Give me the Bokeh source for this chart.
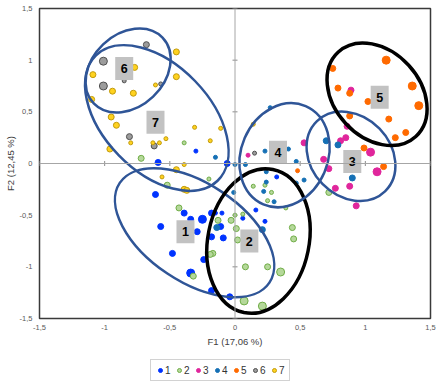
import numpy as np
from bokeh.plotting import figure
from bokeh.layouts import column
from bokeh.models import (ColumnDataSource, Legend, LegendItem, Span, Range1d,
                          FixedTicker, CustomJSTickFormatter)
from bokeh.core.properties import value
from bokeh.embed import file_html
from bokeh.resources import INLINE

# ---------------- data ----------------
group_names = ["1", "2", "3", "4", "5", "6", "7"]

g1_x = [-0.30, -0.59, -0.06, -0.61, -0.39, -0.57, -0.25, -0.29, -0.18, -0.15, -0.10, -0.11,
        -0.09, -0.18, -0.48, -0.24, -0.34, -0.18, -0.04, 0.06, 0.23, 0.16, 0.32, -0.34]
g1_y = [0.12, 0.01, 0.00, -0.30, -0.48, -0.61, -0.54, -0.66, -0.48, -0.48, -0.48, -0.61,
        -0.72, -0.71, -0.87, -0.93, -1.06, -1.23, -1.29, -0.53, -0.56, -0.45, -0.13, -0.54]
g1_w = [1, 2, 2, 2, 2, 2, 3, 2, 2, 1, 1, 2, 2, 2, 2, 2, 3, 2, 2, 1, 1, 1, 1, 2]

g2_x = [-0.39, -0.72, -0.52, -0.20, -0.43, -0.13, -0.03, 0.01, 0.02, -0.17, -0.19, -0.32, 0.08,
        0.25, 0.35, 0.07, 0.21, 0.44, 0.45, 0.14, 0.23, 0.28, 0.25, 0.39, 0.00, 0.06, 0.72]
g2_y = [0.20, 0.05, -0.21, -0.15, -0.43, -0.55, -0.55, -0.63, -0.74, -0.87, -0.88, -1.09, -1.00,
        -1.00, -1.05, -1.33, -1.38, -0.62, -0.73, -0.22, -0.21, -0.28, -0.36, -0.43, -0.50, -0.49, -0.28]
g2_w = [1, 2, 2, 1, 2, 2, 2, 2, 2, 2, 2, 2, 2, 2, 3, 3, 3, 2, 2, 1, 1, 1, 1, 1, 1, 1, 2]

g3_x = [0.89, 0.86, 0.85, 0.81, 0.53, 1.04, 0.68, 0.72, 1.09, 0.77, 0.88, 0.93, 0.10]
g3_y = [0.71, 0.36, 0.25, 0.22, 0.20, 0.11, 0.04, -0.05, -0.08, -0.24, -0.22, -0.41, 0.08]
g3_w = [2, 2, 2, 2, 2, 3, 2, 2, 3, 2, 2, 2, 1]

g4_x = [0.27, 0.23, 0.41, 0.47, 0.00, 0.08, 0.70, 0.79, 0.90, 0.53, 0.47, 0.24, -0.01, 0.30,
        -0.15, 0.24, -0.14, 0.21, 0.22]
g4_y = [0.54, 0.12, 0.14, 0.02, -0.01, -0.01, 0.22, 0.18, -0.14, -0.16, -0.19, -0.18, -0.28, -0.37,
        0.06, -0.08, -0.62, -0.64, -0.27]
g4_w = [1, 1, 1, 1, 1, 1, 2, 2, 2, 1, 1, 1, 1, 1, 1, 1, 2, 2, 1]

g5_x = [1.16, 0.75, 0.79, 0.88, 1.36, 1.41, 1.02, 1.18, 0.88, 1.31, 1.23, 0.99, 1.14, 0.48]
g5_y = [1.00, 0.92, 0.73, 0.68, 0.75, 0.56, 0.60, 0.43, 0.46, 0.30, 0.25, 0.15, -0.03, -0.07]
g5_w = [3, 2, 2, 2, 3, 3, 2, 2, 2, 2, 2, 2, 2, 1]

g6_x = [-0.68, -1.01, -1.01, -0.57, -0.85, -0.81, -0.62, 0.15]
g6_y = [1.15, 0.99, 0.75, 0.77, 0.80, 0.26, 0.17, 0.10]
g6_w = [2, 3, 3, 1, 1, 2, 2, 1]

g7_x = [-0.45, -1.09, -0.77, -0.45, -0.61, -0.94, -0.78, -1.10, -0.95, -0.91, -0.31, -0.11,
        -0.96, -0.80, -0.63, -0.58, -0.53, -0.19, -0.39, -0.45, -0.56, -0.39, -0.37, 0.14]
g7_y = [1.08, 0.86, 0.93, 0.84, 0.76, 0.70, 0.68, 0.62, 0.45, 0.37, 0.35, 0.34,
        0.14, 0.20, 0.20, 0.20, 0.24, 0.22, -0.01, -0.06, -0.13, -0.25, -0.26, 0.38]
g7_w = [2, 2, 2, 2, 1, 2, 2, 2, 2, 2, 1, 1, 2, 1, 1, 1, 1, 1, 1, 2, 1, 2, 2, 1]

# cluster ellipses (centre, full width/height along own axes, rotation in degrees)
ell_id = ["6", "7", "1", "2", "4", "3", "5"]
ell_x = [-0.82, -0.60, -0.31, 0.18, 0.38, 0.89, 1.09]
ell_y = [0.90, 0.44, -0.67, -0.75, 0.08, 0.07, 0.67]
ell_w = [0.73, 1.34, 1.38, 1.12, 0.82, 0.75, 0.88]
ell_h = [0.70, 1.03, 0.95, 0.98, 0.84, 0.77, 0.83]
ell_angle = [43.7, -45.9, -33.7, 78.6, 66.7, -45.9, -47.5]

# cluster labels
lab_text = ["6", "7", "1", "2", "4", "3", "5"]
lab_x = [-0.85, -0.61, -0.38, 0.11, 0.33, 0.90, 1.11]
lab_y = [0.92, 0.40, -0.66, -0.75, 0.11, 0.02, 0.64]

tick_values = [-1.5, -1, -0.5, 0, 0.5, 1, 1.5]

# ---------------- styles ----------------
FONT = "Liberation Sans"
fills = ["#0033FF", "#B5D89A", "#E0269C", "#1570B5", "#FF6A00", "#9C9C9C", "#FFD21F"]
lines = ["#0033FF", "#70AD47", "#E0269C", "#1570B5", "#FF6A00", "#505050", "#C29B0C"]
size_map = {1: 4, 2: 6, 3: 8}

p = figure(width=440, height=352, x_range=Range1d(-1.5, 1.5), y_range=Range1d(-1.5, 1.5),
           output_backend="svg", toolbar_location=None,
           min_border_left=39, min_border_right=10, min_border_top=8, min_border_bottom=34)
p.grid.visible = False
p.background_fill_color = "white"
p.border_fill_color = "white"
p.outline_line_color = "#3A3A3A"
p.outline_line_width = 1.5

for ax in (p.xaxis[0], p.yaxis[0]):
    ax.ticker = FixedTicker(ticks=tick_values)
    ax.formatter = CustomJSTickFormatter(code="return String(tick).replace('.', ',');")
    ax.major_tick_in = 0
    ax.major_tick_out = 0
    ax.minor_tick_line_color = None
    ax.axis_line_color = None
    ax.major_label_text_font = FONT
    ax.major_label_text_font_size = "7.5px"
    ax.major_label_text_color = "#595959"
    ax.axis_label_text_font = FONT
    ax.axis_label_text_font_size = "9.5px"
    ax.axis_label_text_font_style = "normal"
    ax.axis_label_text_color = "#404040"

p.xaxis.axis_label = "F1 (17,06 %)"
p.yaxis.axis_label = "F2 (12,45 %)"
p.xaxis.major_label_standoff = 6
p.xaxis.axis_label_standoff = 3
p.yaxis.major_label_standoff = 7
p.yaxis.axis_label_standoff = 1

# zero lines with small ticks
p.add_layout(Span(location=0, dimension="width", line_color="#A6A6A6", line_width=1))
p.add_layout(Span(location=0, dimension="height", line_color="#A6A6A6", line_width=1))
nz = [t for t in tick_values if t != 0]
p.dash(x=[0] * len(nz), y=nz, size=5, angle=0, line_color="#8C8C8C", line_width=1)
p.dash(x=nz, y=[0] * len(nz), size=5, angle=np.pi / 2, line_color="#8C8C8C", line_width=1)

# points
xs = [g1_x, g2_x, g3_x, g4_x, g5_x, g6_x, g7_x]
ys = [g1_y, g2_y, g3_y, g4_y, g5_y, g6_y, g7_y]
ws = [g1_w, g2_w, g3_w, g4_w, g5_w, g6_w, g7_w]
sources = []
for i, name in enumerate(group_names):
    src = ColumnDataSource(dict(x=xs[i], y=ys[i], s=[size_map[w] for w in ws[i]]))
    sources.append(src)
    p.scatter("x", "y", size="s", source=src, marker="circle",
              fill_color=fills[i], line_color=lines[i], line_width=1)

# ellipses
ell_colors = ["#000000" if e in ("2", "5") else "#2F5597" for e in ell_id]
ell_widths = [3.5 if e in ("2", "5") else 2.5 for e in ell_id]
esrc = ColumnDataSource(dict(x=ell_x, y=ell_y, w=ell_w, h=ell_h,
                             a=list(np.radians(ell_angle)), c=ell_colors, lw=ell_widths))
p.ellipse("x", "y", width="w", height="h", angle="a", source=esrc,
          fill_color=None, line_color="c", line_width="lw")

# label boxes
lsrc = ColumnDataSource(dict(x=lab_x, y=lab_y, t=lab_text))
p.rect("x", "y", width=18, height=23, width_units="screen", height_units="screen",
       source=lsrc, fill_color="#C2C2C2", line_color=None)
p.text("x", "y", text="t", source=lsrc, text_font=value(FONT), text_font_size="12.5px",
       text_font_style="bold", text_align="center", text_baseline="middle", text_color="#000000")

# ---------------- legend strip (same sources, ranges kept away from the data) ----------------
q = figure(width=440, height=34, x_range=Range1d(10, 11), y_range=Range1d(10, 11),
           output_backend="svg", toolbar_location=None,
           x_axis_location=None, y_axis_location=None, min_border=0)
q.grid.visible = False
q.outline_line_color = None
q.background_fill_color = "white"
q.border_fill_color = "white"
items = []
for i, name in enumerate(group_names):
    r = q.scatter("x", "y", source=sources[i], marker="circle", size=5,
                  fill_color=fills[i], line_color=lines[i], line_width=1)
    items.append(LegendItem(label=name, renderers=[r]))

legend = Legend(items=items, orientation="horizontal", location=(111, 5),
                glyph_width=10, glyph_height=12, label_standoff=0, label_width=6, label_height=12,
                spacing=3, padding=4, margin=0, label_text_font=FONT, label_text_font_size="10px",
                label_text_color="#333333", border_line_color="#A6A6A6", border_line_width=1,
                background_fill_alpha=1)
q.add_layout(legend, "center")

layout = column(p, q, spacing=0)
open("out.html", "w").write(file_html(layout, INLINE))
